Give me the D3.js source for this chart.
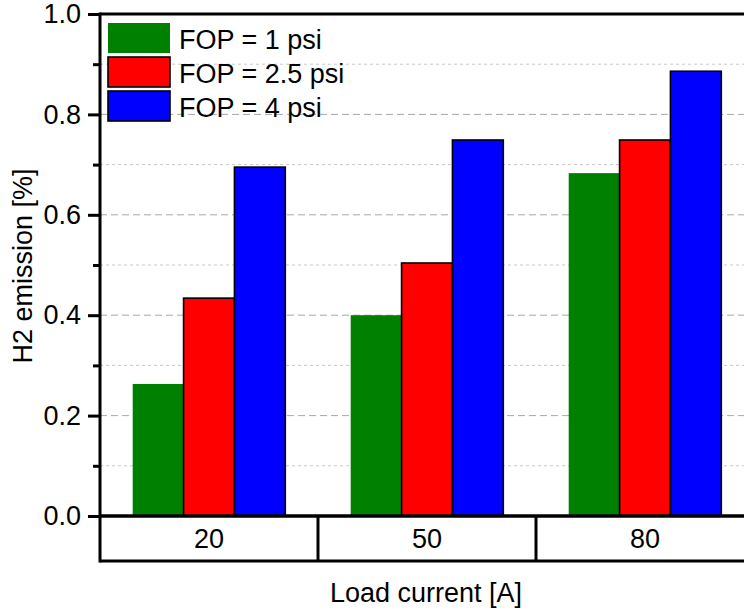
<!DOCTYPE html>
<html lang="en">
<head>
    <meta charset="UTF-8">
    <title>H2 emission</title>
    <script src="https://cdn.jsdelivr.net/npm/d3@7"></script>
    <style>
        body { margin: 0; background: white; font-family: "Liberation Sans", Arial, sans-serif; }
        svg { display: block; }
    </style>
</head>
<body>
    <svg id="chart" width="744" height="613"></svg>
    <script>
        // data
        let loadCurrents = ["20", "50", "80"];
        let seriesNames = ["FOP = 1 psi", "FOP = 2.5 psi", "FOP = 4 psi"];
        let fop1 = [0.263, 0.400, 0.683];
        let fop25 = [0.434, 0.504, 0.749];
        let fop4 = [0.695, 0.749, 0.886];
        let yTicks = [0.0, 0.2, 0.4, 0.6, 0.8, 1.0];

        let colors = ["#008000", "#ff0000", "#0000ff"];
        let strokes = ["none", "#000", "#000"];
        let allSeries = [fop1, fop25, fop4];

        let svg = d3.select("#chart");
        let pLeft = 100, pTop = 14, pBottom = 516, pRight = 754, boxBottom = 561;
        let fs = 27;

        let y = d3.scaleLinear().domain([0, 1]).range([pBottom, pTop]);
        let x0 = d3.scaleBand().domain(loadCurrents).range([pLeft, pRight]).padding(0);
        let x1 = d3.scaleBand().domain(d3.range(seriesNames.length))
            .range([x0.bandwidth() * 0.15, x0.bandwidth() * 0.85]).padding(0);

        // grid lines
        let minor = d3.range(1, 10, 2).map(d => d / 10);
        svg.append("g").selectAll("line")
            .data(minor)
            .enter().append("line")
            .attr("x1", pLeft).attr("x2", pRight)
            .attr("y1", d => y(d)).attr("y2", d => y(d))
            .attr("stroke", "#c8c8c8").attr("stroke-width", 1)
            .attr("stroke-dasharray", "3,3");
        svg.append("g").selectAll("line")
            .data([0.2, 0.4, 0.6, 0.8])
            .enter().append("line")
            .attr("x1", pLeft).attr("x2", pRight)
            .attr("y1", d => y(d)).attr("y2", d => y(d))
            .attr("stroke", "#a8a8a8").attr("stroke-width", 1)
            .attr("stroke-dasharray", "7,4");

        // bars
        let groups = svg.append("g").selectAll("g")
            .data(loadCurrents)
            .enter().append("g")
            .attr("transform", d => "translate(" + x0(d) + ",0)");
        groups.selectAll("rect")
            .data((d, i) => allSeries.map((s, k) => ({k: k, v: s[i]})))
            .enter().append("rect")
            .attr("x", d => x1(d.k))
            .attr("y", d => y(d.v))
            .attr("width", x1.bandwidth())
            .attr("height", d => y(0) - y(d.v))
            .attr("fill", d => colors[d.k])
            .attr("stroke", d => strokes[d.k])
            .attr("stroke-width", 1.6);

        // y axis
        let yAxis = d3.axisLeft(y).tickValues(yTicks).tickFormat(d3.format(".1f"))
            .tickSize(12).tickPadding(7);
        let ya = svg.append("g").attr("transform", "translate(" + pLeft + ",0)").call(yAxis);
        ya.select(".domain").remove();
        ya.selectAll(".tick line").attr("stroke", "#000").attr("stroke-width", 3);
        ya.selectAll(".tick text").attr("font-size", fs).attr("fill", "#000")
            .attr("font-family", "'Liberation Sans', Arial, sans-serif");
        let yMinor = d3.axisLeft(y).tickValues(minor).tickFormat("").tickSize(7);
        let ym = svg.append("g").attr("transform", "translate(" + pLeft + ",0)").call(yMinor);
        ym.select(".domain").remove();
        ym.selectAll(".tick line").attr("stroke", "#000").attr("stroke-width", 3);

        // frame lines
        svg.append("line").attr("x1", pLeft).attr("x2", pLeft).attr("y1", pTop - 1.5).attr("y2", boxBottom + 1.5)
            .attr("stroke", "#000").attr("stroke-width", 3);
        svg.append("line").attr("x1", pLeft).attr("x2", pRight).attr("y1", pTop).attr("y2", pTop)
            .attr("stroke", "#000").attr("stroke-width", 3);
        svg.append("line").attr("x1", pLeft).attr("x2", pRight).attr("y1", pBottom).attr("y2", pBottom)
            .attr("stroke", "#000").attr("stroke-width", 3.5);
        svg.append("line").attr("x1", pLeft).attr("x2", pRight).attr("y1", boxBottom).attr("y2", boxBottom)
            .attr("stroke", "#000").attr("stroke-width", 3);

        // category boxes
        svg.append("g").selectAll("line")
            .data(loadCurrents.slice(1))
            .enter().append("line")
            .attr("x1", d => x0(d)).attr("x2", d => x0(d))
            .attr("y1", pBottom).attr("y2", boxBottom)
            .attr("stroke", "#000").attr("stroke-width", 3);
        svg.append("g").selectAll("text")
            .data(loadCurrents)
            .enter().append("text")
            .attr("x", d => x0(d) + x0.bandwidth() / 2)
            .attr("y", 548)
            .attr("text-anchor", "middle")
            .attr("font-size", fs)
            .text(d => d);

        // axis titles
        svg.append("text")
            .attr("x", 426).attr("y", 602)
            .attr("text-anchor", "middle")
            .attr("font-size", fs)
            .text("Load current [A]");
        svg.append("text")
            .attr("transform", "translate(32,266) rotate(-90)")
            .attr("text-anchor", "middle")
            .attr("font-size", fs)
            .text("H2 emission [%]");

        // legend
        let legend = svg.append("g").selectAll("g")
            .data(seriesNames)
            .enter().append("g")
            .attr("transform", (d, i) => "translate(108," + (23 + i * 34) + ")");
        legend.append("rect")
            .attr("width", 62).attr("height", 30)
            .attr("fill", (d, i) => colors[i])
            .attr("stroke", (d, i) => strokes[i])
            .attr("stroke-width", 1.6);
        legend.append("text")
            .attr("x", 71).attr("y", 25.5)
            .attr("font-size", fs)
            .text(d => d);
    </script>
</body>
</html>
